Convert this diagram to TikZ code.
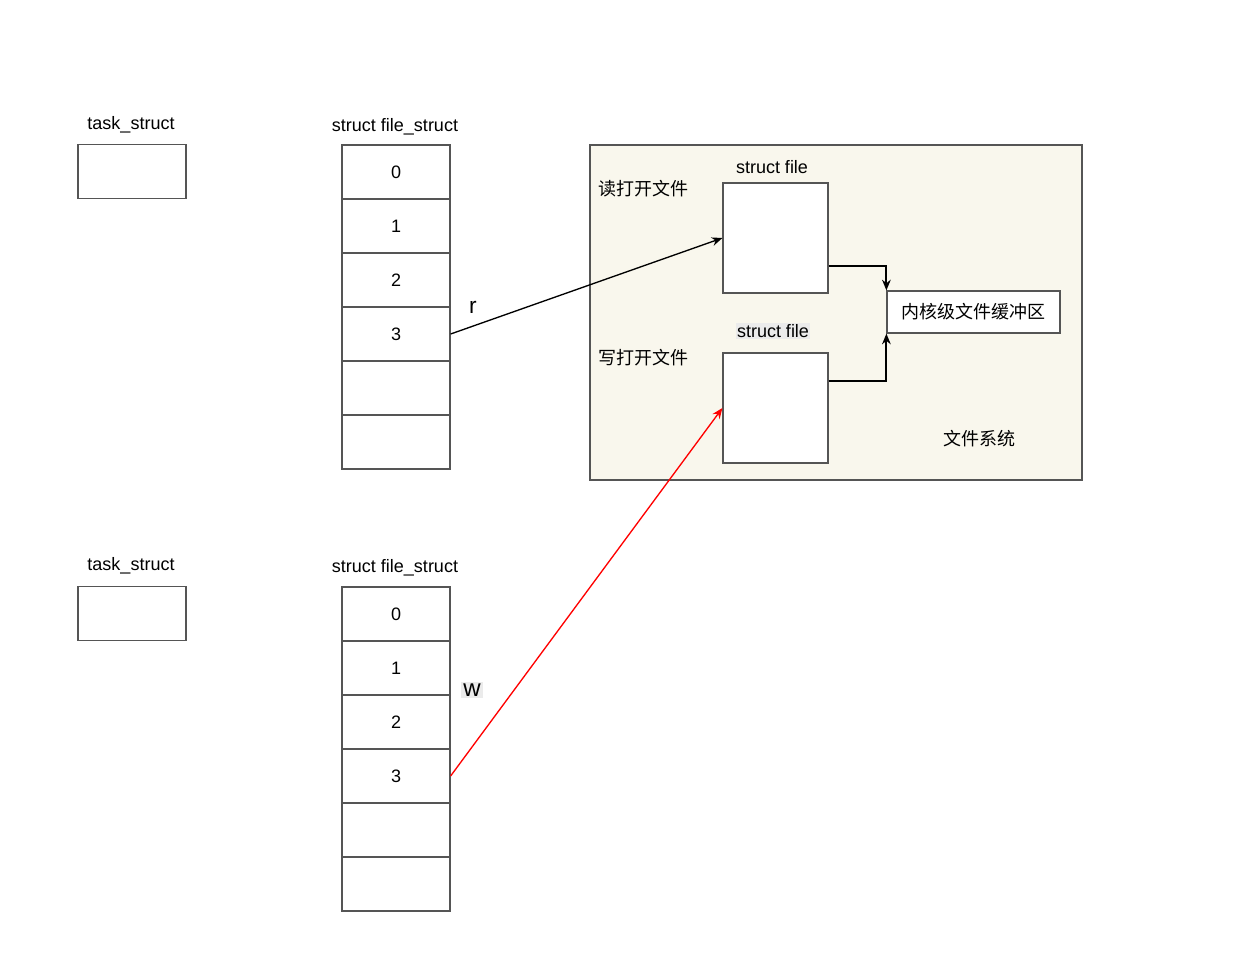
\documentclass[tikz,border=0pt]{standalone}
\usepackage{fontspec}
\setmainfont{Liberation Sans}
\newfontfamily\cjk{Noto Sans CJK SC}
\usetikzlibrary{arrows.meta,calc}
\definecolor{beige}{HTML}{F9F7ED}
\definecolor{edgegray}{HTML}{555555}
\definecolor{hl}{HTML}{EBEBEB}
\begin{document}
\begin{tikzpicture}[x=0.75pt,y=-0.75pt,
  txt/.style={font=\fontsize{13.5}{15}\selectfont, inner sep=1pt},
  cjktxt/.style={font=\cjk\fontsize{13.5}{15}\selectfont, inner sep=1pt},
  cell/.style={draw=edgegray, line width=0.9pt, fill=white, minimum width=81pt, minimum height=40.5pt, inner sep=0pt, font=\fontsize{13.5}{15}\selectfont},
  taskbox/.style={draw=edgegray, line width=0.9pt, fill=white, minimum width=81pt, minimum height=40pt, inner sep=0pt},
  filebox/.style={draw=edgegray, line width=0.9pt, fill=white, minimum width=78.75pt, minimum height=82.5pt, inner sep=0pt},
  arr/.style={line width=1pt, -{Stealth[length=8pt,width=6.5pt]}},
  ortho/.style={line width=1.4pt, -{Stealth[length=8pt,width=6.5pt]}}]
\useasboundingbox (0,0) rectangle (1248,958);
\fill[white] (0,0) rectangle (1248,958);

% file system box
\node[draw=edgegray, line width=0.9pt, fill=beige, minimum width=369pt, minimum height=251.25pt, inner sep=0pt] (fs) at (836,312.5) {};
\node[filebox] (sf1) at (775.5,238) {};
\node[filebox] (sf2) at (775.5,408) {};
\node[draw=edgegray, line width=0.9pt, fill=white, minimum width=129.75pt, minimum height=31.5pt, inner sep=0pt, font=\cjk\fontsize{13.5}{15}\selectfont] (buf) at (973.5,312) {内核级文件缓冲区};
\node[txt] (sf1lbl) at (772,167) {struct file};
\node[txt, fill=hl] (sf2lbl) at (773,331) {struct file};
\node[cjktxt] (rd) at (643,189) {读打开文件};
\node[cjktxt] (wr) at (643,358) {写打开文件};
\node[cjktxt] (fslbl) at (979,439) {文件系统};

% upper process
\node[txt] (t1lbl) at (131,125) {task\_struct};
\node[taskbox] (t1) at (132,171.5) {};
\node[txt] (f1lbl) at (395,127) {struct file\_struct};
\node[cell] (a0) at (396,172) {0};
\node[cell] (a1) at (396,226) {1};
\node[cell] (a2) at (396,280) {2};
\node[cell] (a3) at (396,334) {3};
\node[cell] (a4) at (396,388) {};
\node[cell] (a5) at (396,442) {};

% lower process
\node[txt] (t2lbl) at (131,566) {task\_struct};
\node[taskbox] (t2) at (132,613.5) {};
\node[txt] (f2lbl) at (395,568) {struct file\_struct};
\node[cell] (b0) at (396,614) {0};
\node[cell] (b1) at (396,668) {1};
\node[cell] (b2) at (396,722) {2};
\node[cell] (b3) at (396,776) {3};
\node[cell] (b4) at (396,830) {};
\node[cell] (b5) at (396,884) {};

% labels r, w
\node[font=\fontsize{17}{19}\selectfont, inner sep=1pt] (rlbl) at (473,307) {r};
\node[font=\fontsize{18}{20}\selectfont, inner sep=1.5pt, fill=hl] (wlbl) at (472,690) {w};

% connectors
\draw[arr] (a3.east) -- (sf1.west);
\draw[arr, red] (b3.east) -- (sf2.west);
\draw[ortho] ($(sf1.east)+(0,28)$) -| (buf.north west);
\draw[ortho] ($(sf2.east)+(0,-27)$) -| (buf.south west);
\end{tikzpicture}
\end{document}
